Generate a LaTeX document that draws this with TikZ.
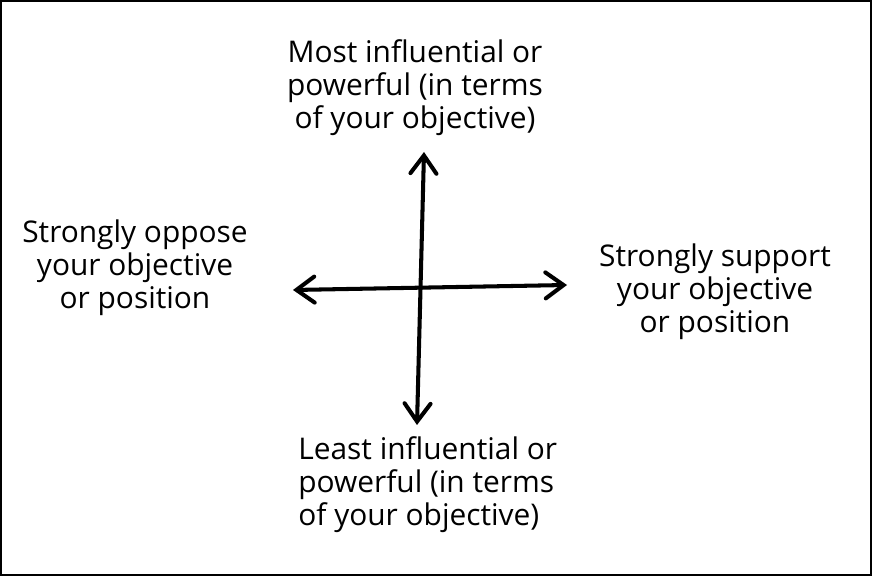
\documentclass[tikz,border=0pt]{standalone}
\usepackage{fontspec}
\setmainfont{Open Sans}
\usetikzlibrary{arrows.meta}
\tikzset{
  label text/.style={font=\fontsize{17}{18.8}\selectfont, inner sep=0pt},
  axis/.style={line width=2.3pt, line cap=round,
    {Straight Barb[length=3.6mm,width=5.2mm,line cap=round]}-{Straight Barb[length=3.6mm,width=5.2mm,line cap=round]}}
}
\begin{document}
\begin{tikzpicture}
      \useasboundingbox (0,0) rectangle (17.44,11.52);
      \draw[line width=0.04cm] (0.02,0.02) rectangle (17.42,11.50);
      \coordinate (N) at (8.48,8.48);
      \coordinate (S) at (8.34,3.02);
      \coordinate (W) at (5.86,5.72);
      \coordinate (E) at (11.34,5.82);
      \node[label text, align=center] at (8.30,9.76) (most) {Most influential or\\powerful (in terms\\of your objective)};
      \node[label text, align=left, anchor=west] at (5.96,1.82) (least) {Least influential or\\powerful (in terms\\of your objective)};
      \node[label text, align=center] at (2.70,6.16) (oppose) {Strongly oppose\\your objective\\or position};
      \node[label text, align=center] at (14.30,5.68) (support) {Strongly support\\your objective\\or position};
      \draw[axis] (S) to (N);
      \draw[axis] (W) to (E);
    \end{tikzpicture}
\end{document}
